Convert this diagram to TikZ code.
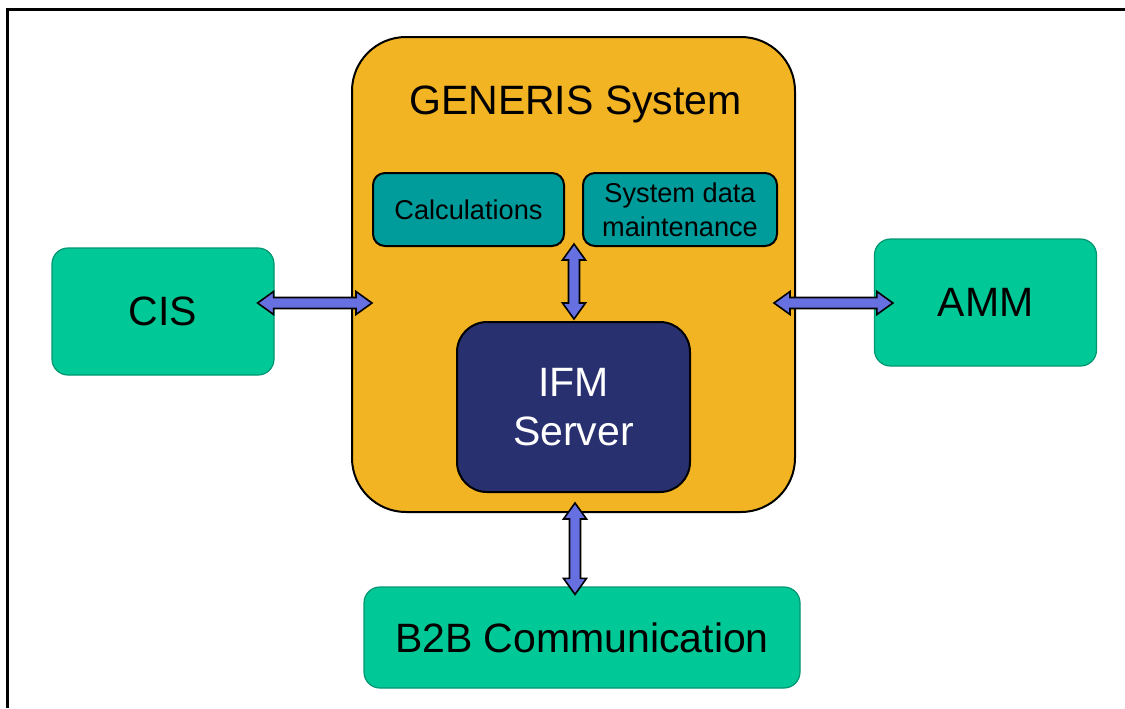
\documentclass[tikz,border=0pt]{standalone}
\usepackage{fontspec}
\setmainfont{Liberation Sans}
\usetikzlibrary{calc}
\definecolor{sysorange}{HTML}{F3B423}
\definecolor{modteal}{HTML}{009C9C}
\definecolor{extgreen}{HTML}{00C896}
\definecolor{srvnavy}{HTML}{283070}
\definecolor{arrowblue}{HTML}{6670E0}

\begin{document}
\begin{tikzpicture}[x=0.5pt,y=-0.5pt,
    ext/.style={draw=extgreen!75!black, line width=0.6pt, fill=extgreen, rounded corners=8pt,
                inner sep=0pt, minimum width=111pt, minimum height=63.5pt,
                font=\fontsize{20.5}{24.5}\selectfont},
    module/.style={draw=black, line width=1pt, fill=modteal, rounded corners=6pt,
                inner sep=0pt, minimum height=36.5pt, align=center,
                font=\fontsize{13.6}{17}\selectfont},
    harrow/.style={draw=black, line width=0.8pt, fill=arrowblue,
        to path={let \p1=(\tikztostart), \p2=(\tikztotarget) in
          (\p1) -- (\x1+8pt,\y1+5.75pt) -- (\x1+8pt,\y1+2.75pt) -- (\x2-8pt,\y1+2.75pt)
          -- (\x2-8pt,\y1+5.75pt) -- (\x2,\y1) -- (\x2-8pt,\y1-5.75pt) -- (\x2-8pt,\y1-2.75pt)
          -- (\x1+8pt,\y1-2.75pt) -- (\x1+8pt,\y1-5.75pt) -- cycle}},
    varrow/.style={draw=black, line width=0.8pt, fill=arrowblue,
        to path={let \p1=(\tikztostart), \p2=(\tikztotarget) in
          (\p1) -- (\x1+5.75pt,\y1-8pt) -- (\x1+2.75pt,\y1-8pt) -- (\x1+2.75pt,\y2+8pt)
          -- (\x1+5.75pt,\y2+8pt) -- (\x1,\y2) -- (\x1-5.75pt,\y2+8pt) -- (\x1-2.75pt,\y2+8pt)
          -- (\x1-2.75pt,\y1-8pt) -- (\x1-5.75pt,\y1-8pt) -- cycle}}]
    \useasboundingbox (0,0) rectangle (1125,708);
    \draw [line width=1.5pt] (7,708) |- (1125,9.5);% frame

    % GENERIS system and its parts
    \node [draw=black, line width=1pt, fill=sysorange, rounded corners=27pt, inner sep=0pt,
           minimum width=221.5pt, minimum height=237.5pt] (gen) at (573.5,274.5) {};
    \node [anchor=base, font=\fontsize{20.5}{24.5}\selectfont] (title) at (575.5,114.5) {GENERIS System};
    \node [module, minimum width=95.5pt] (calc) at (468.5,209.5) {Calculations};
    \node [module, minimum width=97pt] (sysdata) at (680,209.5) {System data\\maintenance};
    \node [draw=black, line width=1pt, fill=srvnavy, rounded corners=15pt, inner sep=0pt,
           minimum width=116.5pt, minimum height=85pt, align=center, text=white,
           font=\fontsize{20.5}{24.5}\selectfont] (ifm) at (573.5,407) {IFM\\Server};

    % outside systems
    \node [ext] (cis) at (163,311.5) {CIS};
    \node [ext] (amm) at (985.5,302.5) {AMM};
    \node [ext, minimum width=218pt, minimum height=50.5pt] (b2b) at (582,637.5) {B2B Communication};

    %---------------------------------------------------------------%
    \draw [harrow] ([shift={(-17,-8.5)}]cis.east) to ([shift={(21,28.5)}]gen.west);
    \draw [harrow] ([shift={(-22,28.5)}]gen.east) to ([shift={(19,0.5)}]amm.west);
    \draw [varrow] ([shift={(0.5,-77)}]ifm.north) to ([shift={(0.5,-2)}]ifm.north);
    \draw [varrow] ([shift={(1.5,10)}]ifm.south) to ([shift={(-7,8)}]b2b.north);
\end{tikzpicture}
\end{document}
